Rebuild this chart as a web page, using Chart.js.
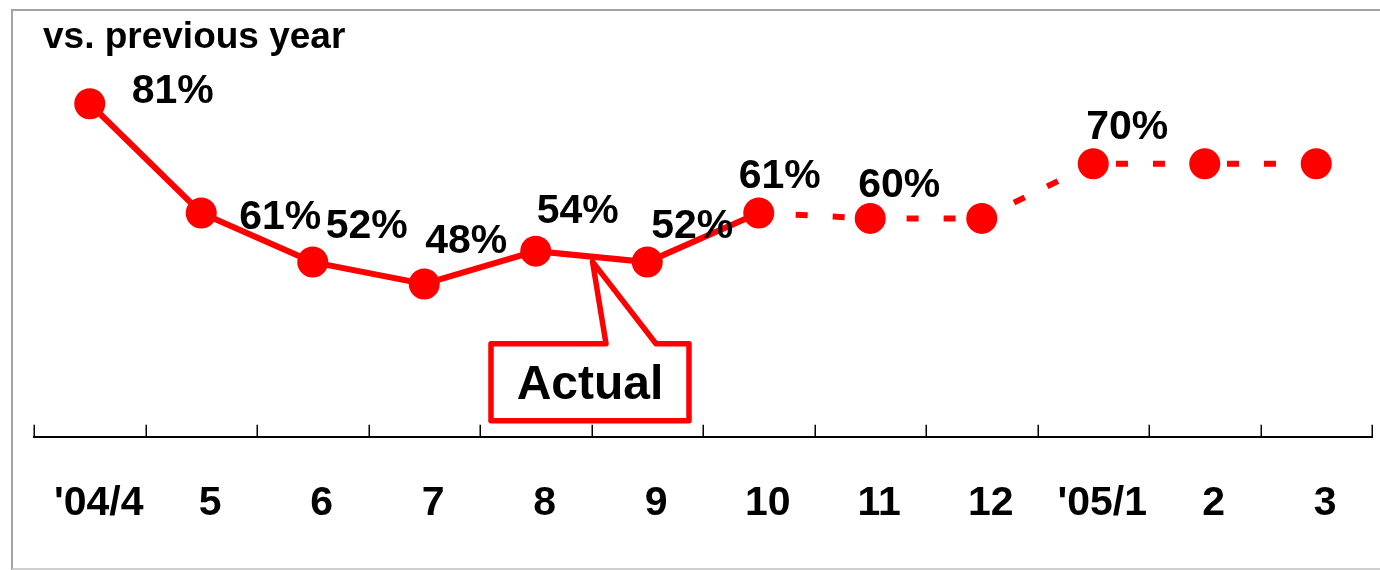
<!DOCTYPE html>
<html>
<head>
<meta charset="utf-8">
<title>vs. previous year</title>
<script src="https://cdn.jsdelivr.net/npm/chart.js@4/dist/chart.umd.min.js"></script>
<style>
  html, body { margin: 0; padding: 0; background: #fff; overflow: hidden; }
  #wrap { position: relative; width: 1380px; height: 570px; }
  #frame {
    position: absolute; left: 11px; top: 9px; width: 1400px; height: 557px;
    border: 2px solid #a3a3a3; border-bottom-color: #cfcfcf;
  }
  #c { position: absolute; left: 0; top: 0; }
</style>
</head>
<body>
<div id="wrap">
  <div id="frame"></div>
  <canvas id="c" width="1380" height="570"></canvas>
</div>
<script>
// Monthly ratio against the same month of the previous year (%)
const months = ["'04/4", "5", "6", "7", "8", "9", "10", "11", "12", "'05/1", "2", "3"];
const ratioVsPrevYear = [81, 61, 52, 48, 54, 52, 61, 60, 60, 70, 70, 70];
// Last month with actual figures; later months are drawn dashed
const lastActualMonth = "10";
// Months whose value is printed next to the point
const labelledMonths = ["'04/4", "5", "6", "7", "8", "9", "10", "11", "'05/1"];
const unitLabel = "vs. previous year";
const calloutText = "Actual";

const RED = '#ff0000';
const FONT = '"Liberation Sans", Arial, sans-serif';

// Where each value label sits relative to its point (px)
const labelOffsets = {
  "'04/4": [83, -12], "5": [79, 5], "6": [54, -35], "7": [42, -42],
  "8": [42, -39], "9": [45, -35], "10": [21, -36], "11": [29, -33], "'05/1": [34, -36]
};

const lastActualIndex = months.indexOf(lastActualMonth);

// Small upward tick marks on the category axis, at category boundaries
const axisTicks = {
  id: 'axisTicks',
  afterDraw(chart) {
    const { ctx } = chart;
    const xs = chart.scales.x;
    const n = months.length;
    const bottom = chart.chartArea.bottom;
    ctx.save();
    ctx.strokeStyle = '#000';
    ctx.lineWidth = 1.5;
    for (let i = 0; i <= n; i++) {
      const px = Math.round(xs.left + i * xs.width / n) + 0.25;
      ctx.beginPath();
      ctx.moveTo(px, bottom - 12);
      ctx.lineTo(px, bottom);
      ctx.stroke();
    }
    ctx.restore();
  }
};

// Callout box pointing at the actual-results part of the line
const actualCallout = {
  id: 'actualCallout',
  beforeDatasetsDraw(chart) {
    const { ctx } = chart;
    const xs = chart.scales.x, ys = chart.scales.y;
    const i0 = months.indexOf('8'), i1 = months.indexOf('9');
    const ax = (xs.getPixelForValue(i0) + xs.getPixelForValue(i1)) / 2;
    const ay = (ys.getPixelForValue(ratioVsPrevYear[i0]) + ys.getPixelForValue(ratioVsPrevYear[i1])) / 2;
    const cx = ax - 1.5;
    const cy = ys.getPixelForValue(30);
    const w = 198, h = 77;
    const l = cx - w / 2, r = cx + w / 2, t = cy - h / 2, b = cy + h / 2;
    ctx.save();
    ctx.beginPath();
    ctx.moveTo(l, t);
    ctx.lineTo(ax + 14.5, t);
    ctx.lineTo(ax + 1, ay + 5);
    ctx.lineTo(ax + 64.5, t);
    ctx.lineTo(r, t);
    ctx.lineTo(r, b);
    ctx.lineTo(l, b);
    ctx.closePath();
    ctx.fillStyle = '#fff';
    ctx.fill();
    ctx.lineWidth = 5.5;
    ctx.lineJoin = 'round';
    ctx.strokeStyle = RED;
    ctx.stroke();
    ctx.fillStyle = '#000';
    ctx.font = 'bold 48px ' + FONT;
    ctx.textAlign = 'center';
    ctx.textBaseline = 'middle';
    ctx.fillText(calloutText, cx, cy + 4);
    ctx.restore();
  }
};

// Percentage labels next to points, plus the unit caption
const valueLabels = {
  id: 'valueLabels',
  afterDatasetsDraw(chart) {
    const { ctx } = chart;
    const meta = chart.getDatasetMeta(0);
    ctx.save();
    ctx.fillStyle = '#000';
    ctx.font = 'bold 41px ' + FONT;
    ctx.textAlign = 'center';
    ctx.textBaseline = 'middle';
    months.forEach((m, i) => {
      if (!labelledMonths.includes(m)) return;
      const pt = meta.data[i];
      const [dx, dy] = labelOffsets[m];
      ctx.fillText(ratioVsPrevYear[i] + '%', pt.x + dx, pt.y + dy);
    });
    ctx.font = 'bold 37px ' + FONT;
    ctx.textAlign = 'left';
    ctx.textBaseline = 'alphabetic';
    ctx.fillText(unitLabel, chart.chartArea.left + 9, 48);
    ctx.restore();
  }
};

new Chart(document.getElementById('c'), {
  type: 'line',
  data: {
    labels: months,
    datasets: [{
      data: ratioVsPrevYear,
      borderColor: RED,
      backgroundColor: RED,
      borderWidth: 6,
      tension: 0,
      pointRadius: 15.5,
      pointHoverRadius: 15.5,
      pointBackgroundColor: RED,
      pointBorderWidth: 0,
      clip: false,
      segment: {
        borderDash: ctx => ctx.p0DataIndex >= lastActualIndex ? [12, 25] : undefined
      }
    }]
  },
  options: {
    responsive: false,
    animation: false,
    events: [],
    layout: { autoPadding: false, padding: { left: 34, right: 8, top: 0, bottom: 42 } },
    plugins: { legend: { display: false }, tooltip: { enabled: false }, title: { display: false } },
    scales: {
      x: {
        offset: true,
        grid: {
          display: true,
          offset: true,
          drawOnChartArea: false,
          drawTicks: true,
          tickLength: 42,
          color: 'rgba(0,0,0,0)'
        },
        border: { display: true, color: '#000', width: 2 },
        ticks: {
          color: '#000',
          font: { family: FONT, size: 41, weight: 'bold' },
          padding: 0,
          labelOffset: 9,
          autoSkip: false,
          maxRotation: 0
        }
      },
      y: {
        display: false,
        min: 20,
        max: 100
      }
    }
  },
  plugins: [axisTicks, actualCallout, valueLabels]
});
</script>
</body>
</html>
